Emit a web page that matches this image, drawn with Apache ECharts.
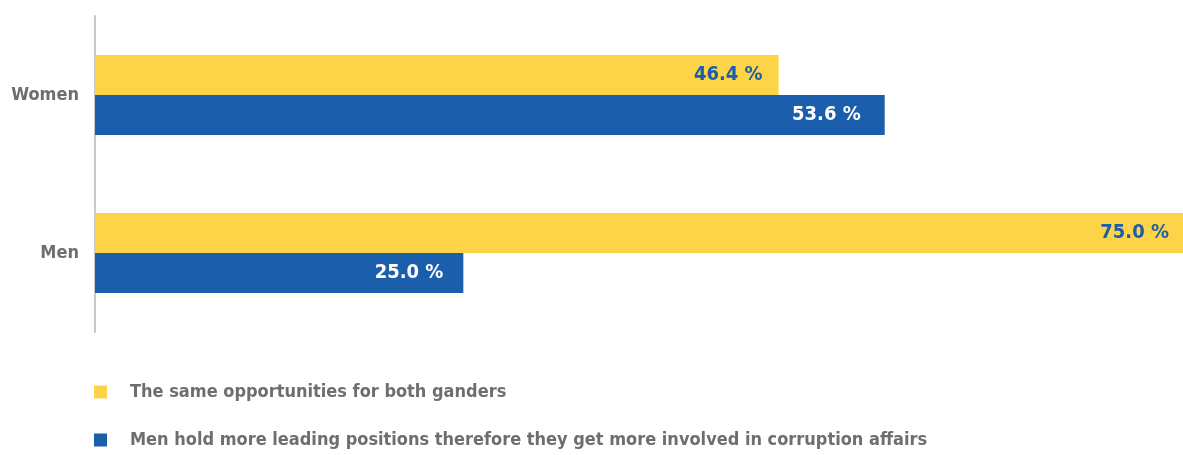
<!DOCTYPE html>
<html>
<head>
<meta charset="utf-8">
<script src="https://cdn.jsdelivr.net/npm/echarts@6/dist/echarts.min.js"></script>
<style>
  html, body { margin: 0; padding: 0; background: #ffffff; }
  #chart { width: 1183px; height: 455px; }
</style>
</head>
<body>
<div id="chart"></div>
<script>
const categories = ['Women', 'Men'];
const seriesNames = [
  'The same opportunities for both ganders',
  'Men hold more leading positions therefore they get more involved in corruption affairs'
];
const sameOpportunities = [46.4, 75.0];
const menLeading = [53.6, 25.0];

const FONT = '"Liberation Sans Narrow", "DejaVu Sans Condensed", "Roboto Condensed", sans-serif';
const YELLOW = '#FDD447';
const BLUE = '#1B5EAB';
const GREY = '#6d6e71';

const fmt = p => p.value.toFixed(1) + ' %';

const chart = echarts.init(document.getElementById('chart'), null, { renderer: 'canvas' });
chart.setOption({
  animation: false,
  textStyle: { fontFamily: FONT },
  grid: { left: 95, right: -17, top: 16, bottom: 123, containLabel: false, outerBoundsMode: 'none' },
  xAxis: {
    type: 'value', min: 0, max: 75,
    show: false
  },
  yAxis: {
    type: 'category',
    data: categories,
    inverse: true,
    axisLine: { show: true, lineStyle: { color: '#c8c8c8', width: 2 } },
    axisTick: { show: false },
    axisLabel: {
      fontFamily: FONT, fontWeight: 'bold', fontSize: 18, color: GREY, margin: 16
    }
  },
  legend: {
    orient: 'vertical',
    left: 94, top: 380, padding: 0,
    itemWidth: 13, itemHeight: 13, itemGap: 24,
    icon: 'rect',
    textStyle: { fontFamily: FONT, fontWeight: 'bold', fontSize: 18, lineHeight: 24, color: GREY, padding: [0, 0, 0, 18] },
    data: seriesNames
  },
  series: [
    {
      name: seriesNames[0],
      type: 'bar',
      barWidth: 40, barGap: '0%',
      itemStyle: { color: YELLOW },
      label: {
        show: true, position: 'insideRight', distance: 16,
        formatter: fmt, fontFamily: FONT, fontWeight: 'bold', fontSize: 20, color: BLUE
      },
      data: [
        sameOpportunities[0],
        { value: sameOpportunities[1], label: { distance: 31 } }
      ]
    },
    {
      name: seriesNames[1],
      type: 'bar',
      barWidth: 40,
      itemStyle: { color: BLUE },
      label: {
        show: true, position: 'insideRight', distance: 21,
        formatter: fmt, fontFamily: FONT, fontWeight: 'bold', fontSize: 20, color: '#ffffff'
      },
      data: [
        { value: menLeading[0], label: { distance: 24 } },
        { value: menLeading[1], label: { distance: 20 } }
      ]
    }
  ]
});
</script>
</body>
</html>
